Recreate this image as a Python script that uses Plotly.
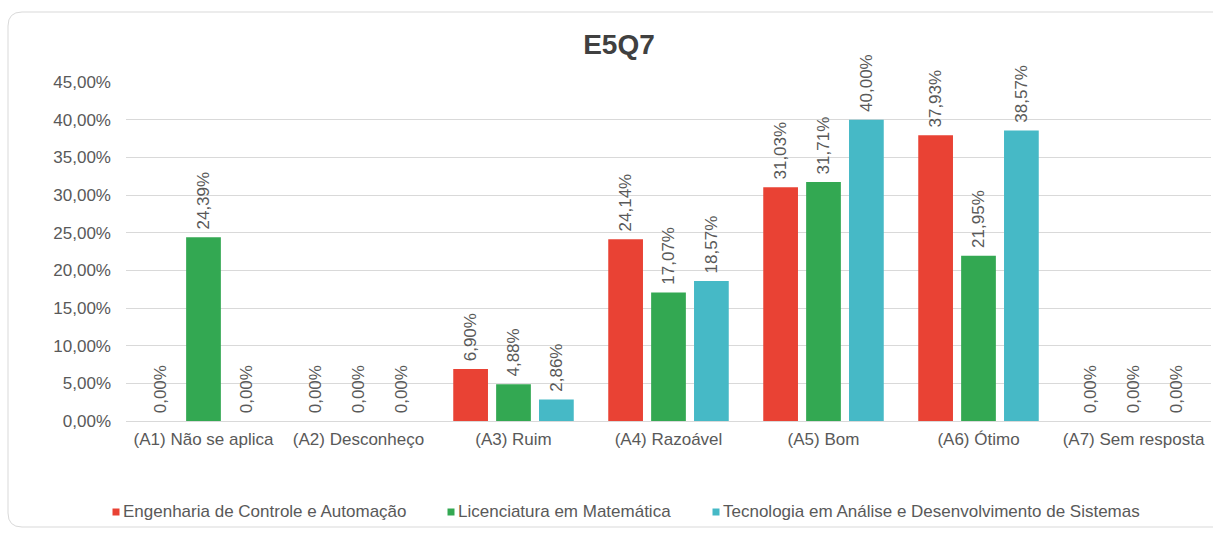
import plotly.graph_objects as go

# Response categories and share of answers (%) per course
categories = ["(A1) Não se aplica", "(A2) Desconheço", "(A3) Ruim", "(A4) Razoável",
              "(A5) Bom", "(A6) Ótimo", "(A7) Sem resposta"]
eng_controle = [0.00, 0.00, 6.90, 24.14, 31.03, 37.93, 0.00]
lic_matematica = [24.39, 0.00, 4.88, 17.07, 31.71, 21.95, 0.00]
tec_sistemas = [0.00, 0.00, 2.86, 18.57, 40.00, 38.57, 0.00]

series_names = ["Engenharia de Controle e Automação",
                "Licenciatura em Matemática",
                "Tecnologia em Análise e Desenvolvimento de Sistemas"]
series_values = [eng_controle, lic_matematica, tec_sistemas]
series_colors = ["#E94234", "#33A852", "#46B9C6"]

W, H = 1213, 533
L, R, T, B = 126, 2, 82, 112
pw, ph = W - L - R, H - T - B
FONT = "Liberation Sans, Arial, sans-serif"
GREY = "#595959"

fig = go.Figure()
for name, vals, color in zip(series_names, series_values, series_colors):
    fig.add_trace(go.Bar(
        x=categories, y=vals, name=name,
        marker=dict(color=color, line=dict(width=0)),
        texttemplate="\u00a0%{y:.2f}%", textposition="outside", textangle=-90,
        textfont=dict(size=17, color=GREY, family=FONT),
        constraintext="none", cliponaxis=False, showlegend=False,
    ))


def px_x(px):
    return (px - L) / pw


def px_y(py):
    return (H - B - py) / ph


# Rounded card outline around the chart
x0, x1, y0, y1, r = px_x(8), px_x(1300), px_y(12), px_y(527), 14
rx, ry = r / pw, r / ph
card_path = (
    f"M {x0+rx},{y0} L {x1-rx},{y0} Q {x1},{y0} {x1},{y0-ry} "
    f"L {x1},{y1+ry} Q {x1},{y1} {x1-rx},{y1} "
    f"L {x0+rx},{y1} Q {x0},{y1} {x0},{y1+ry} "
    f"L {x0},{y0-ry} Q {x0},{y0} {x0+rx},{y0} Z"
)
shapes = [dict(type="path", xref="paper", yref="paper", path=card_path,
               line=dict(color="#D9D9D9", width=1), fillcolor="rgba(0,0,0,0)",
               layer="below")]

# Legend row: small coloured square followed by the series name
legend_marker_x = [116, 451, 716]
legend_y = 512
annotations = []
for name, color, mx in zip(series_names, series_colors, legend_marker_x):
    shapes.append(dict(
        type="rect", xref="paper", yref="paper",
        x0=px_x(mx - 3.5), x1=px_x(mx + 3.5),
        y0=px_y(legend_y + 3.5), y1=px_y(legend_y - 3.5),
        fillcolor=color, line=dict(width=0),
    ))
    annotations.append(dict(
        xref="paper", yref="paper", x=px_x(mx + 5), y=px_y(legend_y),
        xanchor="left", yanchor="middle", showarrow=False,
        text=name, font=dict(size=17, color=GREY, family=FONT),
    ))

fig.update_layout(
    width=W, height=H,
    margin=dict(l=L, r=R, t=T, b=B),
    paper_bgcolor="white", plot_bgcolor="white",
    separators=",.",
    font=dict(family=FONT, color=GREY, size=17),
    title=dict(text="<b>E5Q7</b>", x=619 / W, xanchor="center",
               y=1 - 44 / H, yanchor="middle",
               font=dict(size=28, color="#404040", family=FONT)),
    barmode="group", bargap=0.17, bargroupgap=0.19,
    showlegend=False,
    annotations=annotations,
    shapes=shapes,
    xaxis=dict(showgrid=False, showline=True, linecolor="#D9D9D9", linewidth=1,
               ticks="", ticklabelstandoff=3, tickfont=dict(size=17, color=GREY)),
    yaxis=dict(range=[0, 45], dtick=5, tickformat=".2f", ticksuffix="%",
               showgrid=True, gridcolor="#D9D9D9", gridwidth=1, zeroline=False,
               ticks="", ticklabelstandoff=14, tickfont=dict(size=17, color=GREY)),
)

fig.write_html("out.html")
